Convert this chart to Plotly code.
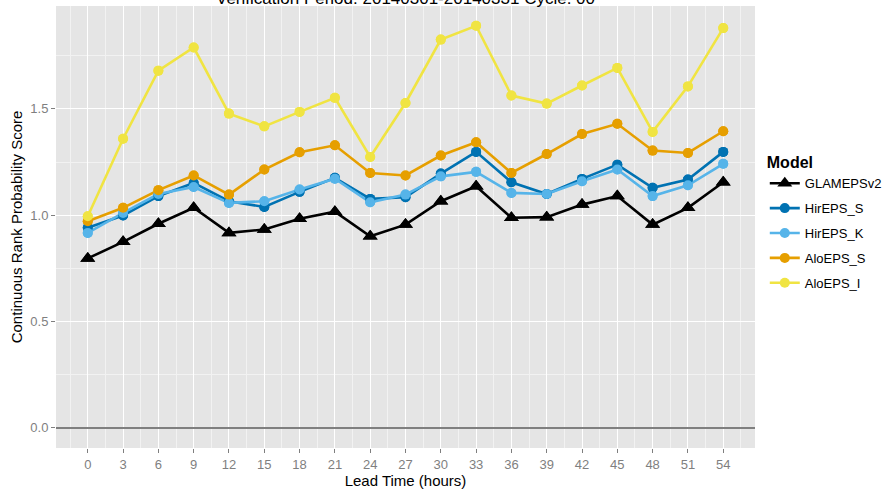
import plotly.graph_objects as go

lead_time = [0, 3, 6, 9, 12, 15, 18, 21, 24, 27, 30, 33, 36, 39, 42, 45, 48, 51, 54]

glameps_v2 = [0.797, 0.875, 0.96, 1.035, 0.917, 0.933, 0.984, 1.017, 0.901, 0.956, 1.066, 1.136,
              0.988, 0.991, 1.05, 1.09, 0.956, 1.035, 1.155]
hireps_s = [0.941, 0.999, 1.09, 1.152, 1.066, 1.039, 1.11, 1.176, 1.077, 1.085, 1.196, 1.298,
            1.155, 1.10, 1.171, 1.238, 1.129, 1.168, 1.298]
hireps_k = [0.917, 1.011, 1.10, 1.133, 1.058, 1.066, 1.121, 1.172, 1.061, 1.097, 1.183, 1.204,
            1.105, 1.10, 1.16, 1.215, 1.09, 1.141, 1.242]
aloeps_s = [0.972, 1.035, 1.118, 1.187, 1.097, 1.215, 1.296, 1.329, 1.199, 1.187, 1.281, 1.343,
            1.199, 1.288, 1.382, 1.43, 1.304, 1.293, 1.395]
aloeps_i = [0.995, 1.36, 1.68, 1.789, 1.478, 1.418, 1.486, 1.552, 1.274, 1.528, 1.826, 1.891,
            1.563, 1.525, 1.61, 1.693, 1.392, 1.606, 1.88]

models = ["GLAMEPSv2", "HirEPS_S", "HirEPS_K", "AloEPS_S", "AloEPS_I"]
values = [glameps_v2, hireps_s, hireps_k, aloeps_s, aloeps_i]
colors = ["#000000", "#0072B2", "#56B4E9", "#E69F00", "#F0E442"]
symbols = ["triangle-up", "circle", "circle", "circle", "circle"]
sizes = [13, 10, 10, 10, 10]

title_text = "Verification Period: 20140301-20140331 Cycle: 00"

fig = go.Figure()

# lines (with legend)
for name, vals, col, sym, sz in zip(models, values, colors, symbols, sizes):
    fig.add_trace(go.Scatter(
        x=lead_time, y=vals, name=name, mode="lines+markers",
        line=dict(color=col, width=2.6),
        marker=dict(color=col, symbol=sym, size=sz, line=dict(width=0)),
        legendgroup=name,
    ))
# points on top of all lines
for name, vals, col, sym, sz in zip(models, values, colors, symbols, sizes):
    fig.add_trace(go.Scatter(
        x=lead_time, y=vals, name=name, mode="markers", showlegend=False,
        marker=dict(color=col, symbol=sym, size=sz, line=dict(width=0)),
        legendgroup=name, hoverinfo="skip",
    ))

font_family = "Liberation Sans, Arial, sans-serif"

fig.update_layout(
    width=883, height=491,
    margin=dict(l=56, r=128, t=6, b=43, autoexpand=False),
    paper_bgcolor="white",
    plot_bgcolor="#E5E5E5",
    font=dict(family=font_family, size=13, color="#000000"),
    showlegend=True,
    legend=dict(
        x=1.014, y=0.68, xanchor="left", yanchor="top",
        title=dict(text="<b>Model</b>", font=dict(size=16, color="#000000")),
        font=dict(size=13, color="#000000"),
        tracegroupgap=5,
        bgcolor="rgba(0,0,0,0)",
        itemwidth=30,
    ),
    annotations=[dict(
        text=title_text, xref="paper", yref="paper", x=0.5, y=1.0,
        xanchor="center", yanchor="bottom", yshift=-4, showarrow=False,
        font=dict(size=17, color="#000000"),
    )],
)

fig.update_xaxes(
    range=[-2.7, 56.7], automargin=False,
    tickmode="array", tickvals=lead_time, ticktext=[str(v) for v in lead_time],
    ticks="outside", ticklen=4, tickcolor="#7F7F7F", tickwidth=1,
    tickfont=dict(size=13, color="#7F7F7F"),
    showgrid=True, gridcolor="#FFFFFF", gridwidth=1.3,
    minor=dict(tickmode="array", tickvals=[v + 1.5 for v in [-3] + lead_time],
               showgrid=True, gridcolor="#F2F2F2", gridwidth=0.6, ticks=""),
    zeroline=False, showline=False,
    title=dict(text="Lead Time (hours)", font=dict(size=15, color="#000000"), standoff=1),
)

fig.update_yaxes(
    range=[-0.0945, 1.984], automargin=False,
    tickmode="array", tickvals=[0.0, 0.5, 1.0, 1.5], ticktext=["0.0", "0.5", "1.0", "1.5"],
    ticks="outside", ticklen=4, tickcolor="#7F7F7F", tickwidth=1,
    tickfont=dict(size=13, color="#7F7F7F"),
    showgrid=True, gridcolor="#FFFFFF", gridwidth=1.3,
    minor=dict(tickmode="array", tickvals=[0.25, 0.75, 1.25, 1.75],
               showgrid=True, gridcolor="#F2F2F2", gridwidth=0.6, ticks=""),
    zeroline=True, zerolinecolor="#7F7F7F", zerolinewidth=1.5,
    showline=False,
    title=dict(text="Continuous Rank Probability Score", font=dict(size=15, color="#000000"), standoff=4),
)

fig.write_html("out.html", config={"displayModeBar": False},
               post_script="document.body.style.margin='0';")
